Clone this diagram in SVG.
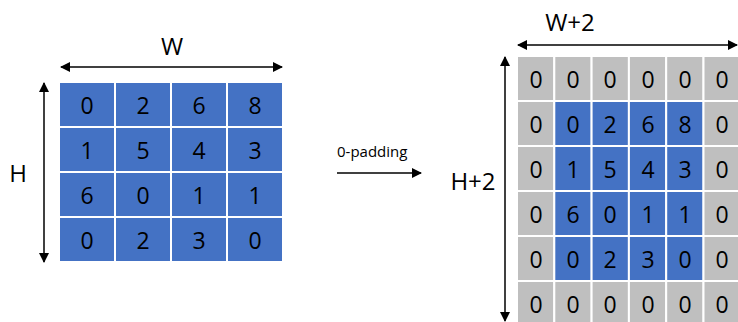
<svg xmlns="http://www.w3.org/2000/svg" width="738" height="322" viewBox="0 0 738 322">
<defs>
<marker id="ah" viewBox="0 0 10 10" refX="9" refY="5" markerWidth="10" markerHeight="10" markerUnits="userSpaceOnUse" orient="auto-start-reverse">
<path d="M0,0 L10,5 L0,10 z" fill="#000"/>
</marker>
<style>
.b{fill:#4472C4;stroke:#fff;stroke-width:2}
.g{fill:#BFBFBF;stroke:#fff;stroke-width:2}
.t{font-family:"Open Sans","Liberation Sans",sans-serif;font-size:23px;fill:#000;text-anchor:middle;dominant-baseline:central}
.l{font-family:"Open Sans","Liberation Sans",sans-serif;font-size:24px;fill:#000;text-anchor:middle;dominant-baseline:central}
.s{font-family:"Open Sans","Liberation Sans",sans-serif;font-size:15px;fill:#000}
.ln{stroke:#000;stroke-width:1.5;fill:none}
</style>
</defs>
<rect width="738" height="322" fill="#fff"/>
<g id="input-grid">
<rect class="b" x="59" y="82" width="56" height="45"/><rect class="b" x="115" y="82" width="56" height="45"/><rect class="b" x="171" y="82" width="56" height="45"/><rect class="b" x="227" y="82" width="56" height="45"/>
<rect class="b" x="59" y="127" width="56" height="45"/><rect class="b" x="115" y="127" width="56" height="45"/><rect class="b" x="171" y="127" width="56" height="45"/><rect class="b" x="227" y="127" width="56" height="45"/>
<rect class="b" x="59" y="172" width="56" height="45"/><rect class="b" x="115" y="172" width="56" height="45"/><rect class="b" x="171" y="172" width="56" height="45"/><rect class="b" x="227" y="172" width="56" height="45"/>
<rect class="b" x="59" y="217" width="56" height="45"/><rect class="b" x="115" y="217" width="56" height="45"/><rect class="b" x="171" y="217" width="56" height="45"/><rect class="b" x="227" y="217" width="56" height="45"/>
<text class="t" x="87" y="105">0</text><text class="t" x="143" y="105">2</text><text class="t" x="199" y="105">6</text><text class="t" x="255" y="105">8</text>
<text class="t" x="87" y="150">1</text><text class="t" x="143" y="150">5</text><text class="t" x="199" y="150">4</text><text class="t" x="255" y="150">3</text>
<text class="t" x="87" y="195">6</text><text class="t" x="143" y="195">0</text><text class="t" x="199" y="195">1</text><text class="t" x="255" y="195">1</text>
<text class="t" x="87" y="240">0</text><text class="t" x="143" y="240">2</text><text class="t" x="199" y="240">3</text><text class="t" x="255" y="240">0</text>
</g>
<g id="padded-grid">
<rect class="g" x="517" y="56" width="37.3" height="45"/><rect class="g" x="554.3" y="56" width="37.3" height="45"/><rect class="g" x="591.6" y="56" width="37.3" height="45"/><rect class="g" x="628.9" y="56" width="37.3" height="45"/><rect class="g" x="666.2" y="56" width="37.3" height="45"/><rect class="g" x="703.5" y="56" width="37.3" height="45"/>
<rect class="g" x="517" y="101" width="37.3" height="45"/><rect class="b" x="554.3" y="101" width="37.3" height="45"/><rect class="b" x="591.6" y="101" width="37.3" height="45"/><rect class="b" x="628.9" y="101" width="37.3" height="45"/><rect class="b" x="666.2" y="101" width="37.3" height="45"/><rect class="g" x="703.5" y="101" width="37.3" height="45"/>
<rect class="g" x="517" y="146" width="37.3" height="45"/><rect class="b" x="554.3" y="146" width="37.3" height="45"/><rect class="b" x="591.6" y="146" width="37.3" height="45"/><rect class="b" x="628.9" y="146" width="37.3" height="45"/><rect class="b" x="666.2" y="146" width="37.3" height="45"/><rect class="g" x="703.5" y="146" width="37.3" height="45"/>
<rect class="g" x="517" y="191" width="37.3" height="45"/><rect class="b" x="554.3" y="191" width="37.3" height="45"/><rect class="b" x="591.6" y="191" width="37.3" height="45"/><rect class="b" x="628.9" y="191" width="37.3" height="45"/><rect class="b" x="666.2" y="191" width="37.3" height="45"/><rect class="g" x="703.5" y="191" width="37.3" height="45"/>
<rect class="g" x="517" y="236" width="37.3" height="45"/><rect class="b" x="554.3" y="236" width="37.3" height="45"/><rect class="b" x="591.6" y="236" width="37.3" height="45"/><rect class="b" x="628.9" y="236" width="37.3" height="45"/><rect class="b" x="666.2" y="236" width="37.3" height="45"/><rect class="g" x="703.5" y="236" width="37.3" height="45"/>
<rect class="g" x="517" y="281" width="37.3" height="45"/><rect class="g" x="554.3" y="281" width="37.3" height="45"/><rect class="g" x="591.6" y="281" width="37.3" height="45"/><rect class="g" x="628.9" y="281" width="37.3" height="45"/><rect class="g" x="666.2" y="281" width="37.3" height="45"/><rect class="g" x="703.5" y="281" width="37.3" height="45"/>
<text class="t" x="536" y="79">0</text><text class="t" x="573" y="79">0</text><text class="t" x="610" y="79">0</text><text class="t" x="648" y="79">0</text><text class="t" x="685" y="79">0</text><text class="t" x="722" y="79">0</text>
<text class="t" x="536" y="124">0</text><text class="t" x="573" y="124">0</text><text class="t" x="610" y="124">2</text><text class="t" x="648" y="124">6</text><text class="t" x="685" y="124">8</text><text class="t" x="722" y="124">0</text>
<text class="t" x="536" y="169">0</text><text class="t" x="573" y="169">1</text><text class="t" x="610" y="169">5</text><text class="t" x="648" y="169">4</text><text class="t" x="685" y="169">3</text><text class="t" x="722" y="169">0</text>
<text class="t" x="536" y="214">0</text><text class="t" x="573" y="214">6</text><text class="t" x="610" y="214">0</text><text class="t" x="648" y="214">1</text><text class="t" x="685" y="214">1</text><text class="t" x="722" y="214">0</text>
<text class="t" x="536" y="259">0</text><text class="t" x="573" y="259">0</text><text class="t" x="610" y="259">2</text><text class="t" x="648" y="259">3</text><text class="t" x="685" y="259">0</text><text class="t" x="722" y="259">0</text>
<text class="t" x="536" y="304">0</text><text class="t" x="573" y="304">0</text><text class="t" x="610" y="304">0</text><text class="t" x="648" y="304">0</text><text class="t" x="685" y="304">0</text><text class="t" x="722" y="304">0</text>
</g>
<g id="labels">
<text class="l" x="172" y="45">W</text>
<text class="l" x="18" y="172">H</text>
<text class="l" x="570" y="21">W+2</text>
<text class="l" x="473" y="180">H+2</text>
<text class="s" x="337" y="157">0-padding</text>
</g>
<g id="connectors">
<line class="ln" x1="61" y1="67" x2="282" y2="67" marker-start="url(#ah)" marker-end="url(#ah)"/>
<line class="ln" x1="44" y1="83" x2="44" y2="262" marker-start="url(#ah)" marker-end="url(#ah)"/>
<line class="ln" x1="518" y1="45" x2="737" y2="45" marker-start="url(#ah)" marker-end="url(#ah)"/>
<line class="ln" x1="505" y1="57" x2="505" y2="321" marker-start="url(#ah)" marker-end="url(#ah)"/>
<line class="ln" x1="337" y1="173" x2="421" y2="173" marker-end="url(#ah)"/>
</g>
</svg>
